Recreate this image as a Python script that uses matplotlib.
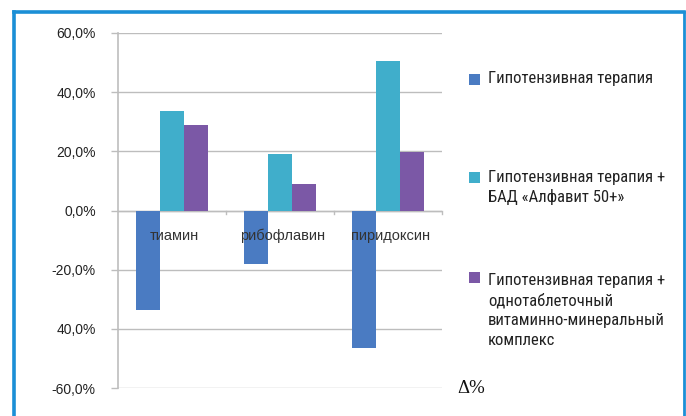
import matplotlib
matplotlib.use('Agg')
import matplotlib.pyplot as plt
from matplotlib.patches import Rectangle
import numpy as np

# Change of vitamin levels per group, percent
vitamins = ['тиамин', 'рибофлавин', 'пиридоксин']
base_therapy = [-33.5, -18.2, -46.6]
with_alphabet = [33.5, 19.1, 50.4]
with_complex = [29.0, 9.0, 19.9]

series_names = [
    ['Гипотензивная терапия'],
    ['Гипотензивная терапия +', 'БАД «Алфавит 50+»'],
    ['Гипотензивная терапия +', 'однотаблеточный', 'витаминно-минеральный', 'комплекс'],
]
series_colors = ['#4a7bc2', '#40aecb', '#7b58a6']
y_ticks = [-60, -40, -20, 0, 20, 40, 60]
y_tick_labels = ['-60,0%', '40,0%', '-20,0%', '0,0%', '20,0%', '40,0%', '60,0%']

W, H = 686, 416
arial = ['Liberation Sans', 'DejaVu Sans']
narrow = ['Roboto Condensed', 'PT Sans Narrow', 'DejaVu Sans']

fig = plt.figure(figsize=(W / 100, H / 100), dpi=100)
ax = fig.add_axes([118 / W, (H - 388) / H, (442 - 118) / W, (388 - 33) / H])

x = np.arange(len(vitamins))
bw = 0.22
for i, vals in enumerate([base_therapy, with_alphabet, with_complex]):
    ax.bar(x + (i - 1) * bw, vals, bw, color=series_colors[i], zorder=3)

ax.set_xlim(-0.5, 2.5)
ax.set_ylim(-60, 60)
ax.set_yticks(y_ticks)
ax.set_yticklabels(y_tick_labels, fontsize=10, color='#222222', family=arial)
ax.yaxis.grid(True, color='#bdbdbd', linewidth=1.0, zorder=0)
ax.tick_params(axis='y', length=5, width=1, color='#bdbdbd', pad=11)
ax.set_xticks([])
for s in ['top', 'right', 'bottom']:
    ax.spines[s].set_visible(False)
ax.spines['left'].set_color('#bdbdbd')
ax.spines['left'].set_linewidth(1.2)

# zero line with small ticks between categories
ax.axhline(0, color='#bdbdbd', linewidth=1.0, zorder=1)
for b in [0.5, 1.5, 2.5]:
    ax.plot([b, b], [0, -1.3], color='#bdbdbd', linewidth=1.0, zorder=1, clip_on=False)

# category names sit just below the zero line, on top of the negative bars
for xi, name in zip(x, vitamins):
    ax.text(xi + 0.02, -8.5, name, ha='center', va='center', fontsize=10.5, color='#333333',
            family=arial, zorder=4)

# legend drawn by hand on the right
marker_y = [79.5, 177.5, 277.5]
first_baseline = [83, 182, 285]
line_step = 20
for lines, col, my, by in zip(series_names, series_colors, marker_y, first_baseline):
    fig.patches.append(Rectangle((469 / W, (H - my - 5.5) / H), 11 / W, 11 / H,
                                 transform=fig.transFigure, facecolor=col, edgecolor='none'))
    for k, line in enumerate(lines):
        fig.text(488 / W, (H - by - k * line_step) / H, line, ha='left', va='baseline',
                 fontsize=12, color='#222222', family=narrow)

fig.text(457 / W, (H - 393) / H, 'Δ%', ha='left', va='baseline', fontsize=13.5,
         color='#111111', family=['Liberation Serif', 'DejaVu Serif'])

# blue frame round the figure, open at the bottom
frame_col = '#1b8fd6'
fig.add_artist(plt.Line2D([14.5 / W, 14.5 / W], [0, (H - 11.5) / H], color=frame_col,
                          linewidth=2.6, transform=fig.transFigure))
fig.add_artist(plt.Line2D([14.5 / W, 683.5 / W], [(H - 11.5) / H, (H - 11.5) / H],
                          color=frame_col, linewidth=2.6, transform=fig.transFigure))
fig.add_artist(plt.Line2D([683.5 / W, 683.5 / W], [0, (H - 11.5) / H], color=frame_col,
                          linewidth=2.0, transform=fig.transFigure))

fig.savefig('out.png', dpi=100)
